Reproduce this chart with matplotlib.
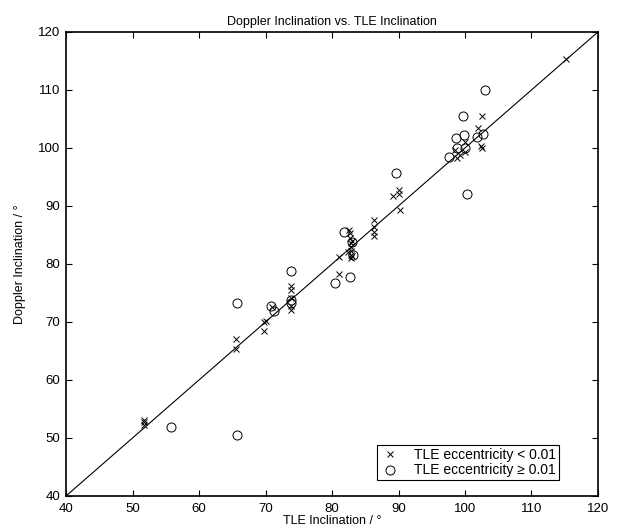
import matplotlib
matplotlib.use("Agg")
import matplotlib.pyplot as plt

plt.rcParams["font.family"] = ["Liberation Sans", "DejaVu Sans"]
plt.rcParams["font.size"] = 9

# Low-eccentricity objects (TLE e < 0.01)
tle_low = [51.7, 51.7, 51.8, 65.6, 65.6, 69.8, 69.8, 70.0, 71.0,
           73.8, 73.8, 73.8, 73.8, 73.8,
           81.0, 81.0, 82.4, 82.6, 82.7, 82.7, 82.8, 82.8, 82.8, 82.9, 82.9, 83.0, 83.0,
           86.3, 86.3, 86.3, 86.3,
           89.2, 90.1, 90.1, 90.2,
           98.5, 98.8, 99.2, 100.0, 100.0, 102.0, 102.4, 102.5, 102.5,
           115.2]
dop_low = [53.1, 52.7, 52.2, 67.1, 65.3, 70.0, 68.4, 70.2, 72.5,
           76.2, 75.5, 74.2, 72.8, 72.1,
           81.2, 78.3, 82.0, 85.8, 85.3, 84.5, 83.6, 82.9, 82.2, 81.6, 81.0, 84.0, 81.3,
           87.6, 86.4, 85.5, 84.8,
           91.7, 92.8, 92.1, 89.3,
           99.7, 98.3, 98.8, 99.3, 101.0, 103.4, 100.3, 100.0, 105.5,
           115.3]

# High-eccentricity objects (TLE e >= 0.01)
tle_high = [55.8, 65.7, 65.7, 70.8, 71.3, 73.8, 73.8, 73.9,
            80.5, 81.8, 82.7, 83.0, 83.2,
            89.6, 97.6, 98.6, 98.8, 99.7, 99.8, 100.0, 100.3, 101.8, 102.7, 103.0]
dop_high = [51.9, 73.3, 50.5, 72.8, 71.9, 78.8, 73.8, 73.3,
            76.7, 85.5, 77.8, 83.8, 81.6,
            95.7, 98.4, 101.7, 100.0, 105.5, 102.2, 100.0, 92.1, 101.9, 102.4, 110.0]

fig = plt.figure(figsize=(6.2, 5.32), dpi=100)
ax = fig.add_axes([0.1065, 0.0677, 0.858, 0.8723])

ax.plot([40, 120], [40, 120], color="black", linewidth=0.8)
ax.plot(tle_low, dop_low, linestyle="none", marker="x", color="black",
        markersize=4.5, markeredgewidth=0.7, label="TLE eccentricity < 0.01")
ax.plot(tle_high, dop_high, linestyle="none", marker="o", markerfacecolor="none",
        markeredgecolor="black", markersize=6.5, markeredgewidth=0.7,
        label="TLE eccentricity \u2265 0.01")

ax.set_xlim(40, 120)
ax.set_ylim(40, 120)
ax.set_xticks(range(40, 121, 10))
ax.set_yticks(range(40, 121, 10))
ax.tick_params(direction="in", top=True, right=True, length=4, width=0.8)
ax.tick_params(axis="x", pad=5, labelsize=9.5)
ax.tick_params(axis="y", pad=4, labelsize=9.5)
for s in ax.spines.values():
    s.set_linewidth(1.2)

ax.set_title("Doppler Inclination vs. TLE Inclination", fontsize=9, pad=5)
ax.set_xlabel("TLE Inclination / \u00b0", labelpad=0)
ax.set_ylabel("Doppler Inclination / \u00b0", labelpad=9)

leg = ax.legend(loc="lower right", bbox_to_anchor=(0.927, 0.034), fancybox=False,
                edgecolor="black", framealpha=1, borderpad=0.2, handletextpad=1.0,
                labelspacing=0.1, borderaxespad=0, handlelength=1.5, fontsize=10)
leg.get_frame().set_linewidth(0.8)

fig.savefig("out.png", dpi=100)
